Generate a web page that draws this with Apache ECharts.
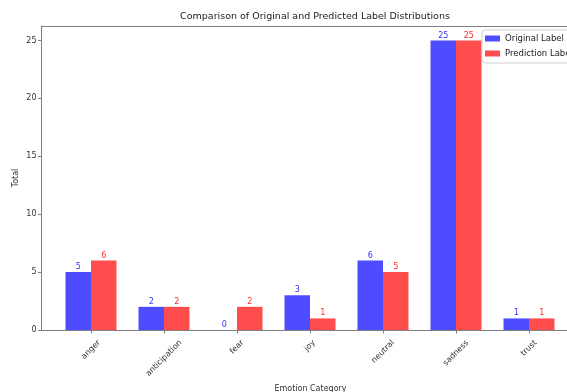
<!DOCTYPE html>
<html><head><meta charset="utf-8">
<script src="https://cdn.jsdelivr.net/npm/echarts@6/dist/echarts.min.js"></script>
<style>html,body{margin:0;padding:0;background:#fff}#c{width:567px;height:392px}</style>
</head><body><div id="c"></div>
<script>
const categories = ['anger','anticipation','fear','joy','neutral','sadness','trust'];
const originalLabel = [5, 2, 0, 3, 6, 25, 1];
const predictionLabel = [6, 2, 2, 1, 5, 25, 1];
const yTicks = [0, 5, 10, 15, 20, 25];
const yMax = 26.25;

const FONT = 'DejaVu Sans';
const axisCol = '#7f7f7f';
const textCol = '#333';
const xLabelSize = 8;
const xLabelLH = 10;

// measure label widths so that rotated labels are centred under ticks (matplotlib style)
const ctx = document.createElement('canvas').getContext('2d');
ctx.font = xLabelSize + 'px "' + FONT + '"';
const rich = {};
categories.forEach((c, i) => {
  const w = ctx.measureText(c).width;
  rich['c' + i] = {
    fontFamily: FONT, fontSize: xLabelSize, color: textCol, lineHeight: xLabelLH,
    padding: [w / 2, w / 2, 0, 0]
  };
});

const chart = echarts.init(document.getElementById('c'), null, {renderer: 'canvas'});
chart.setOption({
  animation: false,
  backgroundColor: '#fff',
  textStyle: {fontFamily: FONT},
  title: {
    text: 'Comparison of Original and Predicted Label Distributions',
    left: 310, top: 7, textAlign: 'center',
    textStyle: {fontFamily: FONT, fontSize: 9.5, fontWeight: 'normal', color: '#222'}
  },
  legend: {
    orient: 'vertical', left: 482, top: 30,
    icon: 'rect',
    itemWidth: 15, itemHeight: 6, itemGap: 6,
    padding: [4, 6, 5, 3],
    backgroundColor: '#fff', borderColor: '#d0d0d0', borderWidth: 1, borderRadius: 3,
    textStyle: {fontFamily: FONT, fontSize: 8.5, color: '#222'},
    data: ['Original Label', 'Prediction Label']
  },
  grid: [
    {left: 41.5, top: 26, width: 538, bottom: 62, outerBoundsMode: 'none', containLabel: false},
    {left: 54.5, top: 26, width: 511, bottom: 62, outerBoundsMode: 'none', containLabel: false}
  ],
  xAxis: [
    {gridIndex: 0, type: 'value', min: 0, max: 1, position: 'bottom',
     axisLine: {show: true, lineStyle: {color: axisCol, width: 1}},
     axisTick: {show: false}, axisLabel: {show: false}, splitLine: {show: false},
     name: 'Emotion Category', nameLocation: 'middle', nameGap: 55,
     nameTextStyle: {fontFamily: FONT, fontSize: 8, color: textCol}},
    {gridIndex: 0, type: 'value', min: 0, max: 1, position: 'top',
     axisLine: {show: true, lineStyle: {color: axisCol, width: 1}},
     axisTick: {show: false}, axisLabel: {show: false}, splitLine: {show: false}},
    {gridIndex: 1, type: 'category', data: categories,
     axisLine: {show: false},
     axisTick: {show: true, alignWithLabel: true, length: 3.5, lineStyle: {color: axisCol}},
     axisLabel: {rotate: 45, align: 'center', verticalAlign: 'middle',
       margin: 8 + 0.354 * xLabelLH, interval: 0,
       formatter: (v, i) => '{c' + i + '|' + v + '}', rich: rich}}
  ],
  yAxis: [
    {gridIndex: 0, type: 'value', min: 0, max: yMax, interval: 5,
     axisLine: {show: true, lineStyle: {color: axisCol, width: 1}},
     axisTick: {show: true, length: 3.5, lineStyle: {color: axisCol}, customValues: yTicks},
     axisLabel: {fontFamily: FONT, fontSize: 8, color: textCol, margin: 5, customValues: yTicks},
     splitLine: {show: false},
     name: 'Total', nameLocation: 'middle', nameGap: 22, nameRotate: 90, nameMoveOverlap: false,
     nameTextStyle: {fontFamily: FONT, fontSize: 8, color: textCol}},
    {gridIndex: 1, type: 'value', min: 0, max: yMax, show: false, splitLine: {show: false}}
  ],
  series: [
    {name: 'Original Label', type: 'bar', xAxisIndex: 2, yAxisIndex: 1,
     data: originalLabel, barWidth: 25.5, barGap: '0%',
     itemStyle: {color: '#4d4dff'},
     label: {show: true, position: 'top', distance: 1, color: '#3333ff', fontFamily: FONT, fontSize: 8}},
    {name: 'Prediction Label', type: 'bar', xAxisIndex: 2, yAxisIndex: 1,
     data: predictionLabel, barWidth: 25.5, barGap: '0%',
     itemStyle: {color: '#ff4d4d'},
     label: {show: true, position: 'top', distance: 1, color: '#ff2a2a', fontFamily: FONT, fontSize: 8}}
  ]
});
</script></body></html>
